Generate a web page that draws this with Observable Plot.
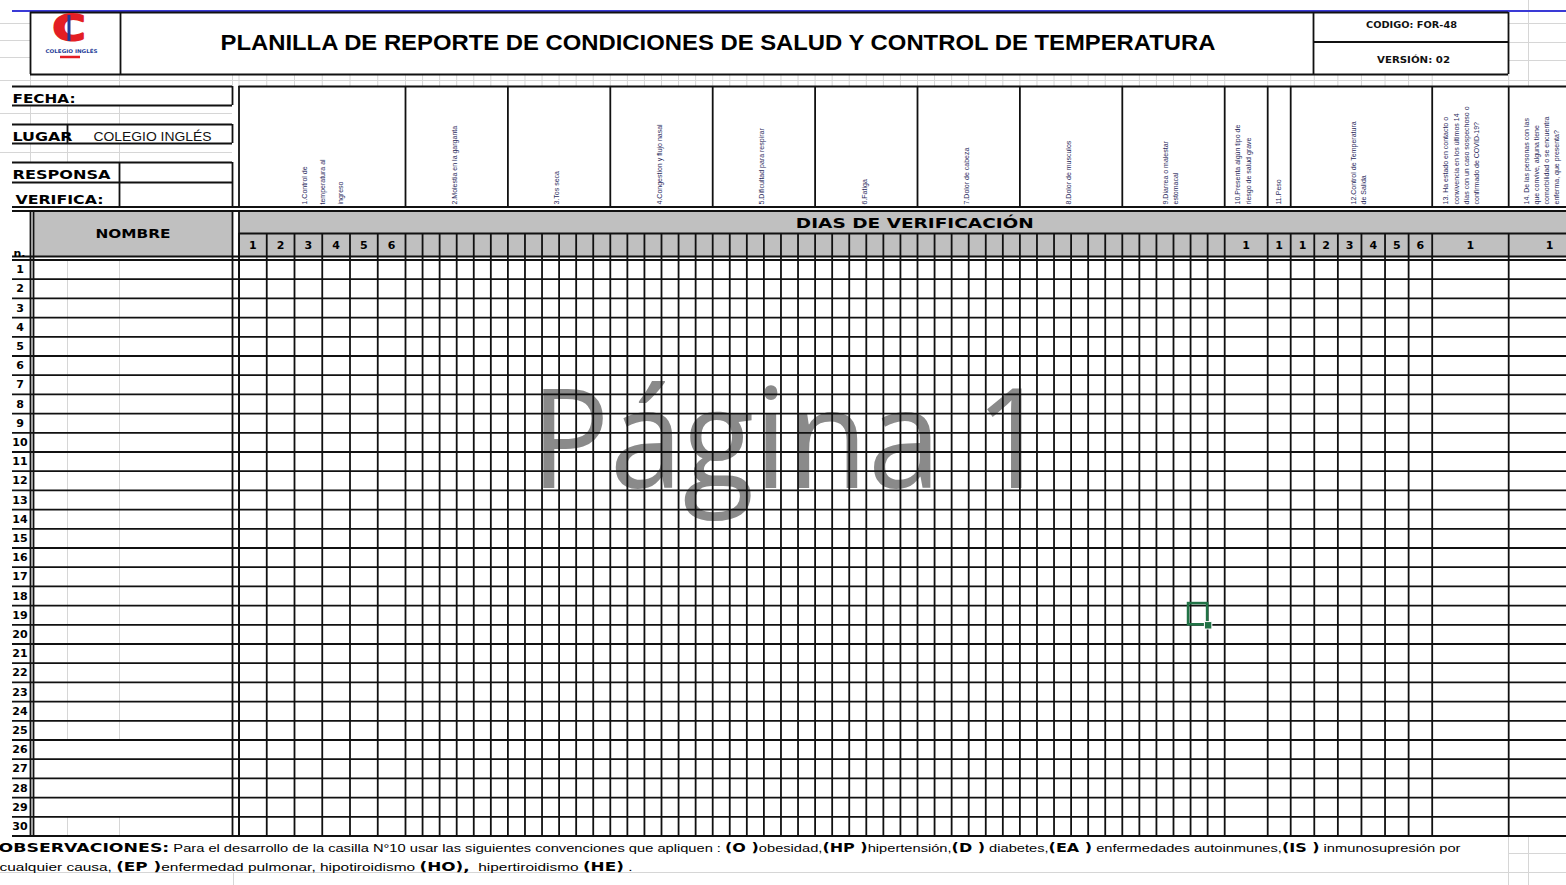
<!DOCTYPE html>
<html><head><meta charset="utf-8">
<script src="https://cdn.jsdelivr.net/npm/d3@7"></script>
<script src="https://cdn.jsdelivr.net/npm/@observablehq/plot@0.6"></script>
<style>
html,body{margin:0;padding:0;background:#fff;overflow:hidden;}
#chart svg{display:block;}
</style></head><body><div id="chart"></div>
<script>
// ---------------- data (texts / categories) ----------------
const title = "PLANILLA DE REPORTE DE CONDICIONES DE SALUD Y CONTROL DE TEMPERATURA";
const codeLabel = "CODIGO: FOR-48";
const versionLabel = "VERSIÓN: 02";
const logoName = "COLEGIO INGLÉS";
const infoLabels = ["FECHA:", "LUGAR", "RESPONSA", "VERIFICA:"];
const placeName = "COLEGIO INGLÉS";
const questions = [
  "1.Control de\ntemperatura al\ningreso",
  "2.Molestia en la garganta",
  "3.Tos seca",
  "4.Congestion y flujo nasal",
  "5.Dificultad para respirar",
  "6.Fatiga",
  "7.Dolor de cabeza",
  "8.Dolor de musculos",
  "9.Diarrea o malestar\nestomacal",
  "10.Presenta algún tipo de\nriesgo de salud grave",
  "11.Peso",
  "12.Control de Temperatura\nde Salida",
  "13. Ha estado en contacto o\nconvivencia en los últimos 14\ndías con un caso sospechoso o\nconfirmado de COVID-19?",
  "14. De las personas con las\nque convive, alguna tiene\ncomorbilidad o se encuentra\nenferma, que presenta?"
];
const dayLabels = [
  ["1","2","3","4","5","6"],
  ["","","","","",""], ["","","","","",""], ["","","","","",""], ["","","","","",""],
  ["","","","","",""], ["","","","","",""], ["","","","","",""], ["","","","","",""],
  ["1"], ["1"],
  ["1","2","3","4","5","6"],
  ["1"], ["1"]
];
const rowNumbers = ["1","2","3","4","5","6","7","8","9","10","11","12","13","14","15",
  "16","17","18","19","20","21","22","23","24","25","26","27","28","29","30"];
const nameHeader = "NOMBRE";
const numberHeader = "n.";
const daysHeader = "DIAS DE VERIFICACIÓN";
const watermark = "Página 1";
const obsLine1 = [
  ["OBSERVACIONES:", true],
  [" Para el desarrollo de la casilla N°10 usar las siguientes convenciones que apliquen : ", false],
  ["(O )", true], ["obesidad,", false],
  ["(HP )", true], ["hipertensión,", false],
  ["(D )", true], [" diabetes,", false],
  ["(EA )", true], [" enfermedades autoinmunes,", false],
  ["(IS )", true], [" inmunosupresión por", false]
];
const obsLine2 = [
  ["cualquier causa, ", false], ["(EP )", true],
  ["enfermedad pulmonar, hipotiroidismo ", false], ["(HO),", true],
  ["  hipertiroidismo ", false], ["(HE)", true], [" .", false]
];
const selectedCell = {question: 9, day: 5, row: 19};

// ---------------- layout (positions / sizes) ----------------
const L = {
  W: 1566, H: 885,
  gridLeft: 12,
  numCol: [30, 33],
  nameCol: [232, 238.5],
  qWidths: [166.5, 102.4, 102.4, 102.4, 102.4, 102.4, 102.4, 102.4, 102.4, 43, 23, 141.5, 76.5, 82],
  headTop: 86, headBot: [206.5, 210.5], daysBot: 233, numBot: 256,
  rowTop: 259.5, rowH: 19.2,
  textOffsets: [-3, -3, -3, -3, -3, -3, -3, -3, -4, -4, -1, -4, -10, -9],
  nameSubRows: [1,2,3,4,5,6,7,8,9,10,11,12,13,14,15,16,17,18,19,20,21,22,23,24,25,30],
};
const BLACK = "#111";
const GRAY = "#c0c0c0";
const FAINT = "#d6d6d6";
const PIX = "DejaVu Sans, sans-serif";
const SANS = "Liberation Sans, Arial, sans-serif";

// derived geometry
const qEdges = [L.nameCol[1]];
L.qWidths.forEach(w => qEdges.push(qEdges[qEdges.length - 1] + w));
const gridRight = qEdges[qEdges.length - 1];
const cells = [];
questions.forEach((q, i) => {
  const n = dayLabels[i].length, w = L.qWidths[i] / n;
  dayLabels[i].forEach((lab, d) => cells.push({q: i, d, x1: qEdges[i] + d * w, x2: qEdges[i] + (d + 1) * w, label: lab}));
});
const nRows = rowNumbers.length;
const rowEdges = [];
for (let k = 0; k <= nRows; k++) rowEdges.push(L.rowTop + k * L.rowH);
const bodyBot = rowEdges[nRows];
const rowMid = i => L.rowTop + (i + 0.5) * L.rowH;
const cellBounds = cells.filter(c => c.d > 0).map(c => c.x1);
const qHeaders = questions.map((t, i) => ({t, x: (qEdges[i] + qEdges[i + 1]) / 2 + L.textOffsets[i]}));
const selCell = cells.find(c => c.q === selectedCell.question - 1 && c.d === selectedCell.day - 1);
const selY1 = rowEdges[selectedCell.row - 1], selY2 = rowEdges[selectedCell.row];

// black horizontal rules
const hRules = [
  {y: 12, x1: 30, x2: 1508}, {y: 74, x1: 30, x2: 1508}, {y: 41.5, x1: 1313, x2: 1508},
  {y: L.headTop, x1: L.gridLeft, x2: L.nameCol[0]}, {y: 105, x1: L.gridLeft, x2: L.nameCol[0]},
  {y: 124, x1: L.gridLeft, x2: L.nameCol[0]}, {y: 143, x1: L.gridLeft, x2: L.nameCol[0]},
  {y: 162, x1: L.gridLeft, x2: L.nameCol[0]}, {y: 182, x1: L.gridLeft, x2: L.nameCol[0]},
  {y: L.headTop, x1: L.nameCol[1], x2: gridRight},
  {y: L.headBot[0], x1: L.gridLeft, x2: gridRight}, {y: L.headBot[1], x1: L.gridLeft, x2: gridRight},
  {y: L.daysBot, x1: L.nameCol[1], x2: gridRight},
  {y: L.numBot, x1: L.gridLeft, x2: gridRight},
  ...rowEdges.map(y => ({y, x1: L.gridLeft, x2: gridRight}))
];
// black vertical rules
const vRules = [
  {x: 30, y1: 12, y2: 74}, {x: 120, y1: 12, y2: 74}, {x: 1313, y1: 12, y2: 74}, {x: 1508, y1: 12, y2: 74},
  {x: L.nameCol[0], y1: L.headTop, y2: 105}, {x: L.nameCol[0], y1: 124, y2: 143}, {x: L.nameCol[0], y1: 162, y2: L.headBot[0]},
  {x: 67, y1: 124, y2: 143}, {x: 119, y1: 162, y2: L.headBot[0]},
  ...qEdges.map(x => ({x, y1: L.headTop, y2: L.headBot[0]})),
  ...qEdges.map(x => ({x, y1: L.daysBot, y2: bodyBot})),
  ...cellBounds.map(x => ({x, y1: L.daysBot, y2: bodyBot})),
  {x: L.numCol[0], y1: L.headBot[1], y2: bodyBot}, {x: L.numCol[1], y1: L.headBot[1], y2: bodyBot},
  {x: L.nameCol[0], y1: L.headBot[1], y2: bodyBot}, {x: L.nameCol[1], y1: L.headBot[1], y2: bodyBot}
];
// faint spreadsheet gridlines
const fH = [
  {y: 23, x1: 0, x2: 30}, {y: 40, x1: 0, x2: 30}, {y: 57, x1: 0, x2: 30},
  {y: 23, x1: 1508, x2: L.W}, {y: 42, x1: 1508, x2: L.W}, {y: 60, x1: 1508, x2: L.W},
  {y: 80, x1: 0, x2: L.W},
  {y: 113, x1: 0, x2: L.nameCol[0]}, {y: 152, x1: 0, x2: L.nameCol[0]},
  {y: 853, x1: 1508, x2: L.W}, {y: 872, x1: 0, x2: L.W}
];
const colTicks = [30, 67, 119, L.nameCol[0], ...qEdges, ...cellBounds, 1528];
const fV = [
  {x: 1528, y1: 0, y2: 86},
  ...colTicks.map(x => ({x, y1: 74, y2: L.headTop})),
  ...[30, 67, 119].map(x => ({x, y1: 105, y2: 124})),
  ...[30, 67, 119].map(x => ({x, y1: 143, y2: 162})),
  ...L.nameSubRows.flatMap(r => [67, 119].map(x => ({x, y1: rowEdges[r - 1], y2: rowEdges[r]}))),
  {x: 1508, y1: bodyBot, y2: L.H}, {x: 1528, y1: bodyBot, y2: L.H}, {x: 233, y1: 872, y2: L.H}
];

const svg = Plot.plot({
  width: L.W, height: L.H, margin: 0,
  x: {type: "linear", domain: [0, L.W], range: [0, L.W], axis: null},
  y: {type: "linear", domain: [0, L.H], range: [0, L.H], axis: null},
  style: {background: "#fff", overflow: "hidden"},
  marks: [
    // gray header fills
    Plot.rect([{x1: L.numCol[1], x2: L.nameCol[0], y1: L.headBot[1], y2: L.numBot},
               {x1: L.nameCol[1], x2: gridRight, y1: L.headBot[1], y2: L.numBot}],
      {x1: "x1", x2: "x2", y1: "y1", y2: "y2", fill: GRAY}),
    // watermark
    Plot.text([watermark], {x: 790, y: 487, text: d => d, fontSize: 140, fontFamily: "Open Sans, Noto Sans, sans-serif",
      fill: "#8a8a8a", lineAnchor: "bottom", textAnchor: "middle"}),
    // faint gridlines
    Plot.ruleY(fH, {y: "y", x1: "x1", x2: "x2", stroke: FAINT, strokeWidth: 1}),
    Plot.ruleX(fV, {x: "x", y1: "y1", y2: "y2", stroke: FAINT, strokeWidth: 1}),
    // blue top line
    Plot.ruleY([10.5], {x1: L.gridLeft, x2: L.W, stroke: "#3a3ad6", strokeWidth: 2}),
    // black rules
    Plot.ruleY(hRules, {y: "y", x1: "x1", x2: "x2", stroke: BLACK, strokeWidth: 1.8}),
    Plot.ruleX(vRules, {x: "x", y1: "y1", y2: "y2", stroke: BLACK, strokeWidth: 1.8}),
    // logo
    Plot.text(["C"], {x: 68.5, y: 28, text: d => d, fontSize: 36, fontWeight: "bold", fontFamily: PIX, fill: "#e31e24",
      stroke: "#e31e24", strokeWidth: 2, lineAnchor: "middle"}),
    Plot.ruleX([68.5], {y1: 15, y2: 41, stroke: "#1f3c99", strokeWidth: 3}),
    Plot.text([logoName], {x: 71, y: 52, text: d => d, fontSize: 5, fontWeight: "bold", fontFamily: PIX, fill: "#2a3f9a", lineAnchor: "bottom"}),
    Plot.ruleY([56.5], {x1: 60, x2: 80, stroke: "#e31e24", strokeWidth: 2.5}),
    // title & code box
    Plot.text([title], {x: 717.5, y: 49, text: d => d, fontSize: 22, fontWeight: "bold", fontFamily: SANS, fill: "#000", lineAnchor: "bottom"}),
    Plot.text([codeLabel], {x: 1411, y: 27, text: d => d, fontSize: 9, fontWeight: "bold", fontFamily: PIX, fill: "#111", lineAnchor: "bottom"}),
    Plot.text([versionLabel], {x: 1413, y: 62, text: d => d, fontSize: 9, fontWeight: "bold", fontFamily: PIX, fill: "#111", lineAnchor: "bottom"}),
    // info labels
    Plot.text(infoLabels, {x: (d, i) => [12, 12, 12, 15][i], y: (d, i) => [102, 140, 178, 203][i], text: d => d,
      fontSize: 13, fontWeight: "bold", fontFamily: PIX, fill: "#000", textAnchor: "start", lineAnchor: "bottom"}),
    Plot.text([placeName], {x: 93, y: 140, text: d => d, fontSize: 12, fontFamily: SANS, fill: "#111", textAnchor: "start", lineAnchor: "bottom"}),
    // rotated question headers
    Plot.text(qHeaders.slice(0, 1), {x: "x", y: 204, text: "t", rotate: -90, textAnchor: "start", lineAnchor: "middle",
      lineHeight: 2.6, fontSize: 7, fontFamily: SANS, fill: "#2a2a5c"}),
    Plot.text(qHeaders.slice(1), {x: "x", y: 204, text: "t", rotate: -90, textAnchor: "start", lineAnchor: "middle",
      lineHeight: 1.45, fontSize: 7, fontFamily: SANS, fill: "#2a2a5c"}),
    // column headers
    Plot.text([nameHeader], {x: (L.numCol[1] + L.nameCol[0]) / 2, y: 233, text: d => d, fontSize: 13, fontWeight: "bold", fontFamily: PIX, fill: "#000", lineAnchor: "middle"}),
    Plot.text([numberHeader], {x: 19, y: 256, text: d => d, fontSize: 11, fontWeight: "bold", fontFamily: PIX, fill: "#000", lineAnchor: "bottom"}),
    Plot.text([daysHeader], {x: (L.nameCol[1] + gridRight) / 2, y: 223, text: d => d, fontSize: 14, fontWeight: "bold", fontFamily: PIX, fill: "#000", lineAnchor: "middle"}),
    Plot.text(cells.filter(c => c.label), {x: c => (c.x1 + c.x2) / 2, y: 245, text: "label", fontSize: 11, fontWeight: "bold", fontFamily: PIX, fill: "#000", lineAnchor: "middle"}),
    // row numbers
    Plot.text(rowNumbers, {x: 19.5, y: (d, i) => rowMid(i), text: d => d, fontSize: 11, fontWeight: "bold", fontFamily: PIX, fill: "#000", lineAnchor: "middle"}),
    Plot.rect([0], {x1: 0, x2: L.gridLeft - 0.5, y1: L.rowTop + 1, y2: bodyBot - 1, fill: "#fff"}),
    // observations
    Plot.text([obsLine1.map(s => s[0]).join("")], {x: -2, y: 851, text: d => d, fontSize: 11, fontFamily: "Liberation Sans Narrow, Liberation Sans, sans-serif", fill: "#000", textAnchor: "start", lineAnchor: "bottom"}),
    Plot.text([obsLine2.map(s => s[0]).join("")], {x: -1, y: 870, text: d => d, fontSize: 11, fontFamily: "Liberation Sans Narrow, Liberation Sans, sans-serif", fill: "#000", textAnchor: "start", lineAnchor: "bottom"}),
    // selected cell (Excel cursor)
    Plot.rect([selCell], {x1: c => c.x1 - 2, x2: c => c.x2, y1: selY1 - 2, y2: selY2, fill: "none", stroke: "#217346", strokeWidth: 2.6}),
    Plot.dot([selCell], {x: c => c.x2 + 0.5, y: selY2 + 0.5, symbol: "square", r: 4.2, fill: "#217346", stroke: "#fff", strokeWidth: 1})
  ]
});

// fit text widths to the reference (widths consumed in document order per string)
const fitWidths = new Map([
  [title, [995]], ["FECHA:", [63]], ["LUGAR", [60]], ["RESPONSA", [98]], ["VERIFICA:", [88]],
  [logoName, [52, 118]], [nameHeader, [75]], [daysHeader, [238]], [codeLabel, [91]], [versionLabel, [73]],
  [watermark, [520]], ["C", [33]]
]);
const lines = [[obsLine1, 1462], [obsLine2, 633]];
d3.select(svg).selectAll("text").each(function () {
  const t = this.textContent;
  const ws = fitWidths.get(t);
  if (ws && ws.length) { this.setAttribute("textLength", ws.shift()); this.setAttribute("lengthAdjust", "spacingAndGlyphs"); }
  for (const [segs, width] of lines) {
    if (t === segs.map(s => s[0]).join("")) {
      this.textContent = "";
      for (const [s, bold] of segs) {
        const ts = document.createElementNS("http://www.w3.org/2000/svg", "tspan");
        ts.textContent = s;
        if (bold) { ts.setAttribute("font-weight", "bold"); ts.setAttribute("font-family", PIX); ts.setAttribute("font-size", s === "OBSERVACIONES:" ? 13 : 12); }
        this.appendChild(ts);
      }
      this.setAttribute("textLength", width);
      this.setAttribute("lengthAdjust", "spacingAndGlyphs");
      this.style.whiteSpace = "pre";
    }
  }
});
document.getElementById("chart").appendChild(svg);
</script></body></html>
